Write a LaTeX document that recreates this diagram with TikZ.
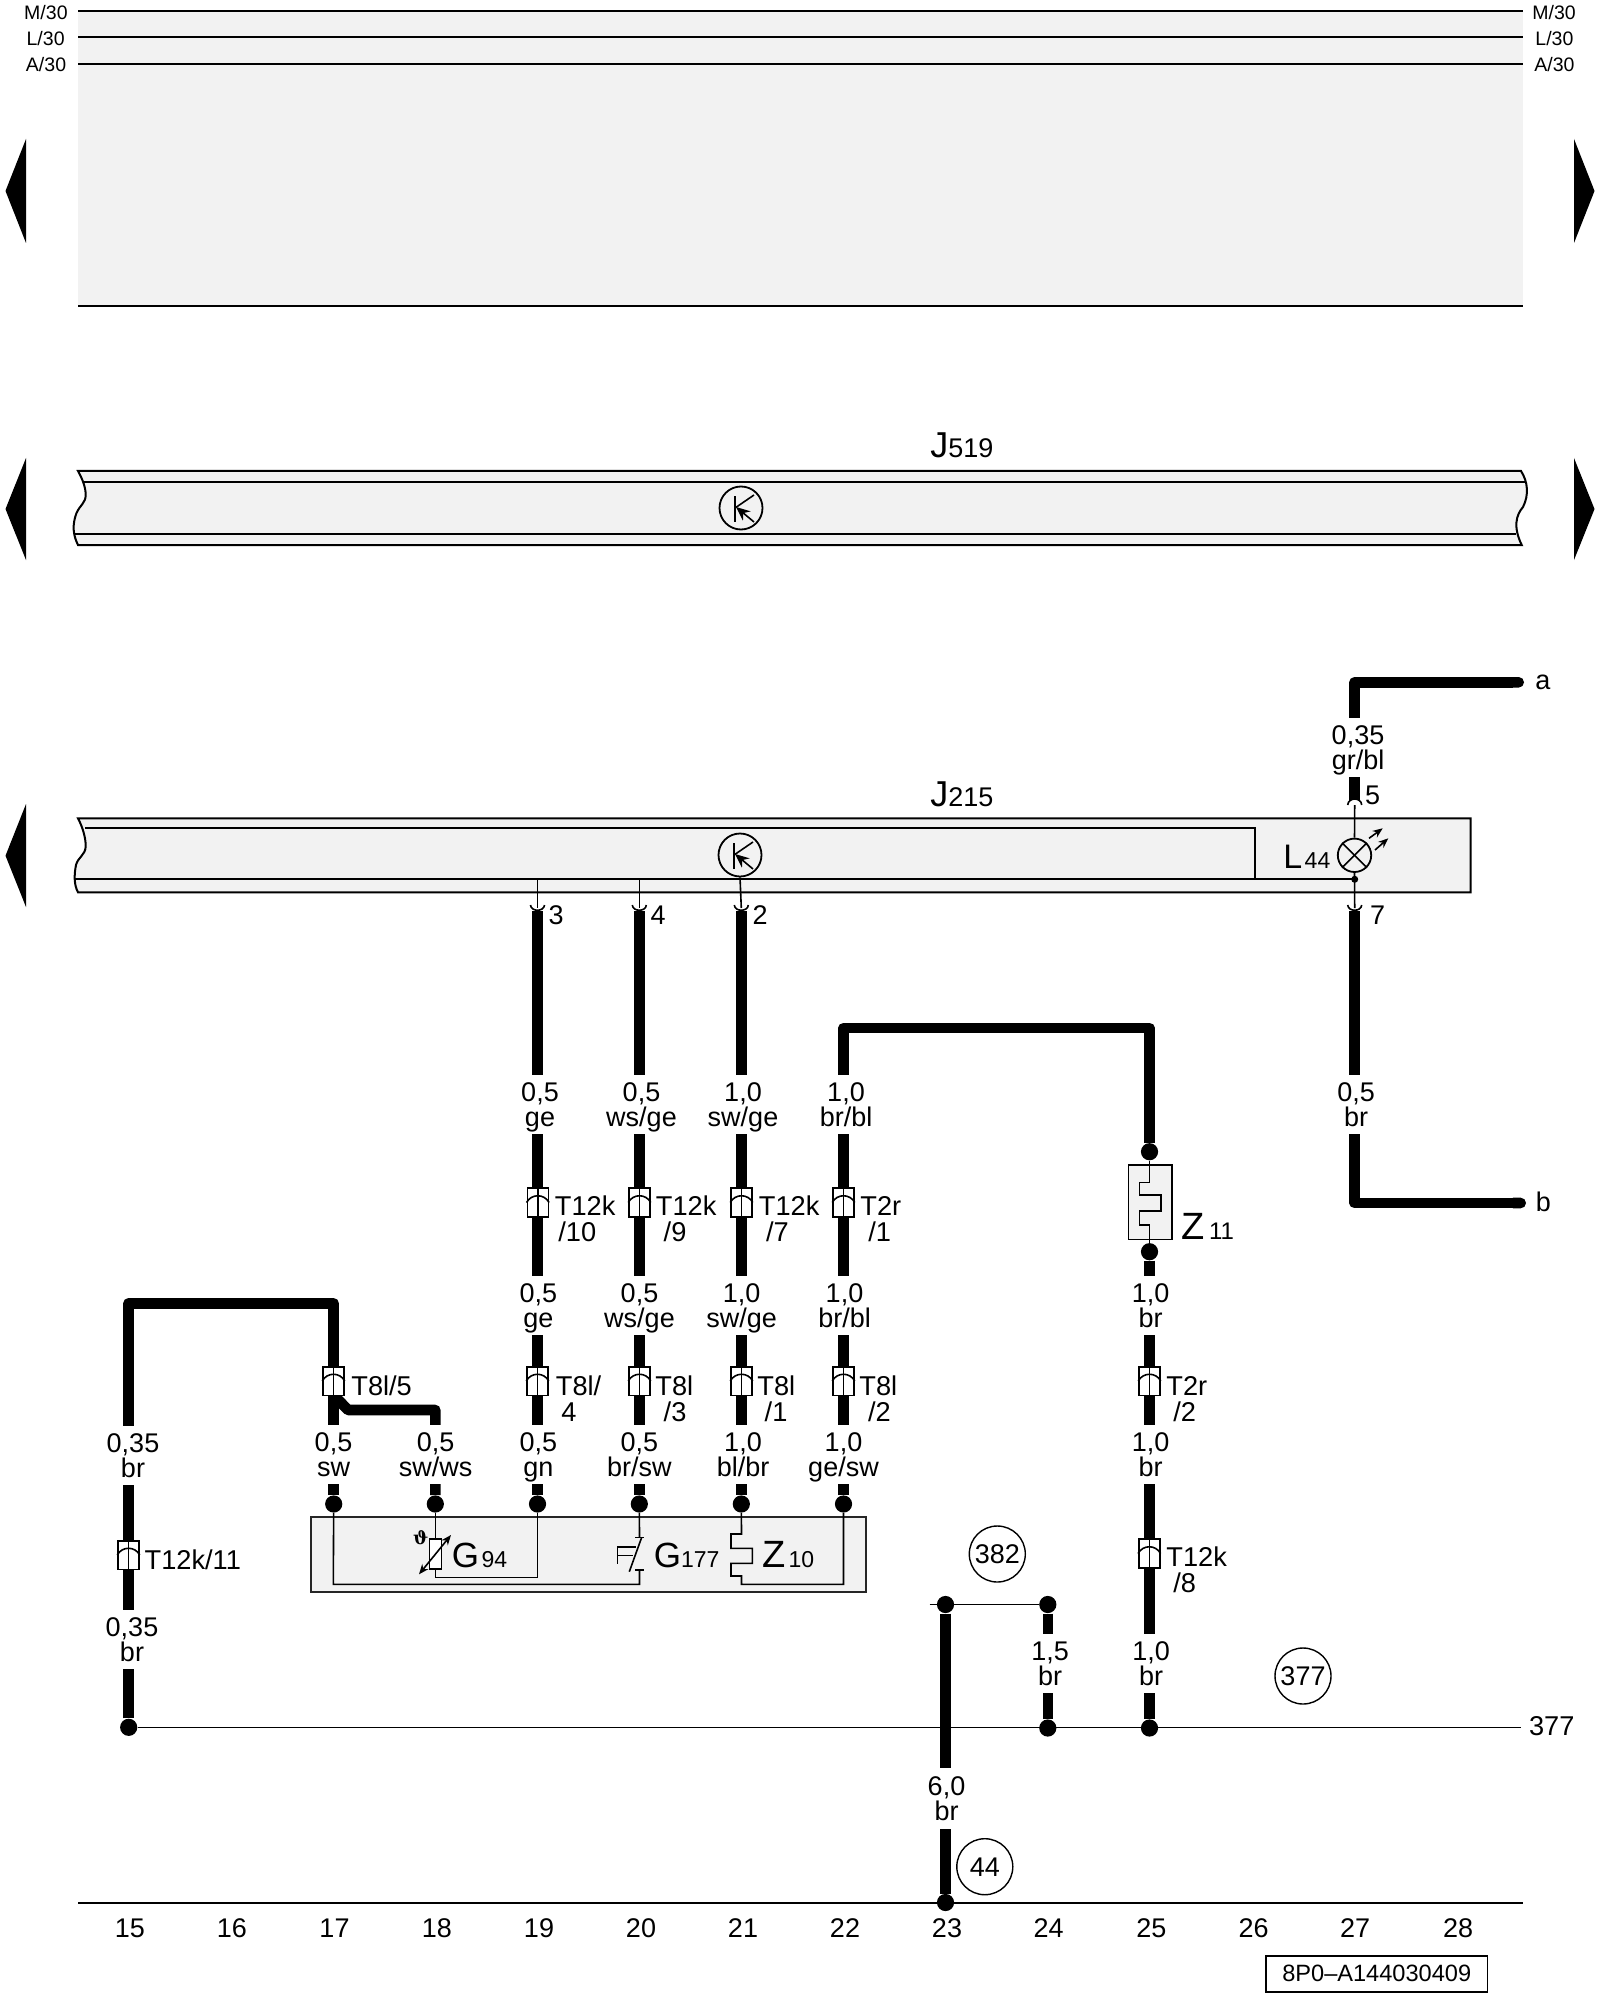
\documentclass[tikz,border=0pt]{standalone}
\usepackage{fontspec}
\setmainfont{Liberation Sans}
\newfontfamily\thetafont{DejaVu Serif}
\usetikzlibrary{arrows.meta}
\definecolor{panel}{HTML}{F2F2F2}
\newcommand\sz[1]{\fontsize{#1}{12.5}\selectfont}
\newcommand\gaugetxt[2]{\rule{0pt}{12.7pt}#1\\\rule[-3pt]{0pt}{3pt}#2}
\tikzset{
  wire/.style={line width=5.3pt,line join=round,black},
  thinw/.style={line width=.8pt,black},
  barline/.style={line width=1pt,black},
  gauge/.style={fill=white,inner sep=0pt,align=center,minimum height=29.5pt,font=\sz{13.5}},
  conn/.style={draw=black,line width=.8pt,fill=white,inner sep=0pt,minimum width=10.5pt,minimum height=14.3pt},
  jdot/.style={circle,fill=black,inner sep=0pt,minimum size=8.6pt},
  txt/.style={inner sep=0pt,anchor=base west,font=\sz{13.6}},
  ctr/.style={inner sep=0pt,font=\sz{13.5}},
  small/.style={inner sep=0pt,font=\sz{9.75}},
  ref/.style={circle,draw=black,line width=.7pt,inner sep=0pt,minimum size=28pt,font=\sz{13.5}},
  tri/.style={fill=black,draw=none},
  thinarrow/.style={thinw,-{Stealth[length=5pt,width=4pt]}}
}
\newcommand\connsym[3]{%
  \node[conn] (#1) at (#2,#3) {};
  \draw[thinw] (#1.north) -- (#1.south);
  \draw[thinw] (#1.west) .. controls +(5,-9) and +(-5,-9) .. (#1.east);
}
\newcommand\cupdown[1]{\draw[thinw] ({#1-7},905) .. controls ({#1-6.5},912) and ({#1+6.5},912) .. ({#1+7},905);}
\newcommand\transistor[3]{%
  \node[circle,draw=black,line width=.9pt,inner sep=0pt,minimum size=21.5pt] (#1) at (#2,#3) {};
  \draw[line width=.8pt] ({#2-6},{#3-12}) -- ({#2-6},{#3+14});
  \draw[line width=.8pt] ({#2-6},#3) -- ({#2+13},{#3-13});
  \draw[line width=.8pt,-{Stealth[length=7pt,width=6pt]}] ({#2+13},{#3+14}) -- ({#2-5},{#3-1});
}
\begin{document}
\begin{tikzpicture}[x=.5pt,y=-.5pt]
\useasboundingbox (0,0) rectangle (1600,2000);

% top rail panel
\fill[panel] (78,11.3) rectangle (1523,306);
\coordinate (mL) at (78,11.3);  \coordinate (mR) at (1523,11.3);
\coordinate (lL) at (78,37.3);  \coordinate (lR) at (1523,37.3);
\coordinate (aL) at (78,64.3);  \coordinate (aR) at (1523,64.3);
\coordinate (bL) at (78,306);   \coordinate (bR) at (1523,306);
\draw[barline] (mL) -- (mR);
\draw[barline] (lL) -- (lR);
\draw[barline] (aL) -- (aR);
\draw[barline] (bL) -- (bR);
\node[small,anchor=base east] (tM1) at (68,19.3) {M/30};
\node[small,anchor=base east] (tL1) at (65,46) {L/30};
\node[small,anchor=base east] (tA1) at (66.5,71.7) {A/30};
\node[small,anchor=base west] (tM2) at (1532,19.3) {M/30};
\node[small,anchor=base west] (tL2) at (1535,46) {L/30};
\node[small,anchor=base west] (tA2) at (1534,71.7) {A/30};

% page arrows
\fill[tri] (5.5,191) -- (26,139) -- (26,243) -- cycle;
\fill[tri] (1594.5,191) -- (1574,139) -- (1574,243) -- cycle;
\fill[tri] (5.5,509) -- (26,458) -- (26,560) -- cycle;
\fill[tri] (1594.5,509) -- (1574,458) -- (1574,560) -- cycle;
\fill[tri] (5.5,855.7) -- (26,804) -- (26,907) -- cycle;

% J519
\draw[barline,fill=panel] (78,471) -- (1521,471) .. controls (1528,482) and (1529,495) .. (1523,507)
  .. controls (1516,515) and (1513,527) .. (1521.7,545) -- (78,545)
  .. controls (73,535) and (72,525) .. (76.5,513) .. controls (80,505) and (85.7,503) .. (85.7,495)
  .. controls (85.7,488) and (83,480) .. (78,471) -- cycle;
\draw[barline] (84,482.3) -- (1526,482.3);
\draw[barline] (74,534.3) -- (1516,534.3);
\transistor{t519}{741}{508}
\node[txt] (j519) at (930,457.3) {\sz{18}J\sz{13.5}519};

% J215
\draw[barline,fill=panel] (78,818.3) -- (1470.7,818.3) -- (1470.7,892.3) -- (78,892.3)
  .. controls (74,885) and (74,875) .. (76,865) .. controls (78,857) and (85.7,855) .. (85.7,846)
  .. controls (85.7,838) and (83,828) .. (78,818.3) -- cycle;
\coordinate (junc) at (1354.7,879.3);
\draw[barline] (85,828.3) -- (1255,828.3) -- (1255,879.3);
\draw[barline] (75,879.3) -- (junc);
\fill[black] (junc) circle (3.5);
\transistor{t215}{740}{855}
\node[txt] (j215) at (930,806) {\sz{18}J\sz{13.5}215};
\node[txt] (l44) at (1283,868.3) {\sz{17}L\kern1.2pt\sz{11.5}44};

% lamp
\node[circle,draw=black,line width=.9pt,inner sep=0pt,minimum size=16.7pt] (lamp) at (1354.5,855.3) {};
\draw[thinw] (lamp.45) -- (lamp.225);
\draw[thinw] (lamp.135) -- (lamp.315);
\coordinate (r1a) at (1369,838.3); \coordinate (r1b) at (1382.7,828.3);
\coordinate (r2a) at (1375,850);   \coordinate (r2b) at (1388.3,838.3);
\draw[thinarrow] (r1a) -- (r1b);
\draw[thinarrow] (r2a) -- (r2b);
\coordinate (pin5t) at (1354.7,805);
\coordinate (pin7t) at (1354.7,908);
\draw[thinw] (pin5t) -- (lamp.north);
\draw[thinw] (lamp.south) -- (pin7t);
\draw[thinw] ({1354.7-7},805) .. controls ({1354.7-6.5},797) and ({1354.7+6.5},797) .. ({1354.7+7},805);
\cupdown{1354.7}
\node[ctr] (n5) at (1372.7,795) {5};
\node[ctr] (n7) at (1377.7,915) {7};

% pins below J215
\coordinate (p3b) at (537.5,880); \coordinate (p3) at (537.5,908);
\coordinate (p4b) at (639.3,880); \coordinate (p4) at (639.3,908);
\coordinate (p2)  at (741.3,908);
\draw[thinw] (p3b) -- (p3);
\draw[thinw] (p4b) -- (p4);
\draw[thinw] (t215.south) -- (p2);
\cupdown{537.5}\cupdown{639.3}\cupdown{741.3}
\node[ctr] (n3) at (556,915) {3};
\node[ctr] (n4) at (658,915) {4};
\node[ctr] (n2) at (760,915) {2};

% sensor box
\draw[line width=.9pt,draw=black!85,fill=panel] (311.3,1517) rectangle (865.7,1592);

% joints
\node[jdot] (d17) at (333.7,1504) {};
\node[jdot] (d18) at (435.3,1504) {};
\node[jdot] (d19) at (537.5,1504) {};
\node[jdot] (d20) at (639.3,1504) {};
\node[jdot] (d21) at (741.3,1504) {};
\node[jdot] (d22) at (843.5,1504) {};
\node[jdot] (d15) at (128.7,1727.3) {};
\node[jdot] (d23t) at (945.5,1604.5) {};
\node[jdot] (d24t) at (1047.8,1604.5) {};
\node[jdot] (d24b) at (1047.8,1728) {};
\node[jdot] (d25b) at (1149.5,1728) {};
\node[jdot] (d23b) at (945.5,1902.5) {};
\node[jdot] (d25t) at (1149.5,1151.7) {};
\node[jdot] (d25m) at (1149.5,1251.7) {};

% thin lines in sensor box
\coordinate (g17a) at (333.3,1584.3);
\coordinate (g20a) at (639.5,1584.3);
\coordinate (g20b) at (639.5,1570);
\coordinate (g20c) at (639.5,1537.3);
\draw[thinw] (d17) -- (g17a) -- (g20a) -- (g20b);
\draw[thinw] (d20) -- (g20c);
\draw[thinw] (635,1537.3) -- (644,1537.3);
\draw[thinw] (635,1570) -- (644,1570);
\draw[thinw] (641.7,1537.3) -- (629.3,1571.7);
\draw[thinw] (617.3,1546) -- (617.3,1564);
\draw[thinw] (617.3,1547) -- (636,1547);
\draw[thinw] (617.3,1555.5) -- (633,1555.5);
\node[draw=black,line width=.8pt,fill=white,inner sep=0pt,minimum width=6pt,minimum height=14.8pt] (res) at (435.3,1553.9) {};
\coordinate (g18a) at (435.3,1577.3);
\coordinate (g19a) at (537.5,1577.3);
\draw[thinw] (d18) -- (res.north);
\draw[thinw] (res.south) -- (g18a) -- (g19a) -- (d19);
\coordinate (ra1) at (451,1535); \coordinate (ra2) at (419,1574.3);
\draw[thinw,{Stealth[length=5pt,width=4pt]}-{Stealth[length=5pt,width=4pt]}] (ra1) -- (ra2);
\node[inner sep=0pt,font={\thetafont\bfseries\fontsize{9}{9}\selectfont}] (theta) at (420.7,1538) {ϑ};
\node[txt] (g94) at (451.5,1567.7) {\sz{17.5}G\kern1.2pt\sz{11.5}94};
\node[txt] (g177) at (653.5,1567.7) {\sz{17.5}G\sz{11.5}177};
\node[txt] (z10) at (762,1567.7) {\sz{19}Z\kern1.5pt\sz{11.5}10};
\coordinate (z10e) at (843.5,1584.3);
\draw[thinw] (d21) -- (741.5,1534) -- (731,1534) -- (731,1548.3) -- (752.3,1548.3) -- (752.3,1563.3)
  -- (731,1563.3) -- (731,1576) -- (741.5,1576) -- (741.5,1584.3) -- (z10e) -- (d22);

% fuse Z11
\node[draw=black,line width=.8pt,fill=panel,inner sep=0pt,minimum width=21.7pt,minimum height=37.2pt] (z11box) at (1150,1202.2) {};
\draw[thinw] (d25t) -- (1149.5,1182.3) -- (1139.3,1182.3) -- (1139.3,1195) -- (1161,1195) -- (1161,1210.7)
  -- (1139.3,1210.7) -- (1139.3,1225) -- (1149.5,1225) -- (d25m);
\node[txt] (z11) at (1181.5,1239) {\sz{19}Z\kern2pt\sz{12}11};

% main lines
\coordinate (e377) at (1520.5,1727.3);
\draw[thinw] (d15) -- (e377);
\node[txt,anchor=west] (t377) at (1528.6,1726) {377};
\coordinate (c23l) at (929.5,1604.5);
\draw[thinw] (c23l) -- (d24t);
\coordinate (gL) at (78,1902.5); \coordinate (gR) at (1523,1902.5);
\draw[barline] (gL) -- (gR);

% thick wires
\coordinate (w19) at (537.5,911);
\coordinate (w20) at (639.3,911);
\coordinate (w21) at (741.3,911);
\coordinate (w27) at (1354.7,911);
\coordinate (w5)  at (1354.7,800);
\coordinate (c15) at (128.7,1303.3);
\coordinate (c17) at (333.7,1303.3);
\coordinate (c22) at (843.5,1028);
\coordinate (c25) at (1149.5,1028);
\coordinate (ca)  at (1354.7,682.3);
\coordinate (ea)  at (1524,682.3);
\coordinate (cb)  at (1354.7,1203);
\coordinate (eb)  at (1526,1203);
\coordinate (br1) at (333.7,1395);
\coordinate (br2) at (348,1410);
\draw[wire] (d15) -- (c15) -- (c17) -- (d17);
\draw[wire] (br1) -- (br2) -| (d18);
\draw[wire] (w19) -- (d19);
\draw[wire] (w20) -- (d20);
\draw[wire] (w21) -- (d21);
\draw[wire] (d22) -- (c22) -- (c25) -- (d25t);
\draw[wire] (d25m) -- (d25b);
\draw[wire] (d23t) -- (d23b);
\draw[wire] (d24t) -- (d24b);
\draw[wire,-{Round Cap[]}] (w5) -- (ca) -- (ea);
\draw[wire,-{Round Cap[]}] (w27) -- (cb) -- (eb);
\node[ctr,anchor=base west] (ta) at (1535,689.3) {a};
\node[ctr,anchor=base west] (tb) at (1535.5,1211.6) {b};

% wire gauge labels
\node[gauge] (w27a) at (1358,747.5) {\gaugetxt{0,35}{gr/bl}};
\node[gauge] (w27b) at (1356,1104.5) {\gaugetxt{0,5}{br}};
\node[gauge] (w19a) at (540,1104.5) {\gaugetxt{0,5}{ge}};
\node[gauge] (w20a) at (641.5,1104.5) {\gaugetxt{0,5}{ws/ge}};
\node[gauge] (w21a) at (743,1104.5) {\gaugetxt{1,0}{sw/ge}};
\node[gauge] (w22a) at (846,1104.5) {\gaugetxt{1,0}{br/bl}};
\node[gauge] (w19b) at (538.3,1305.5) {\gaugetxt{0,5}{ge}};
\node[gauge] (w20b) at (639.5,1305.5) {\gaugetxt{0,5}{ws/ge}};
\node[gauge] (w21b) at (741.7,1305.5) {\gaugetxt{1,0}{sw/ge}};
\node[gauge] (w22b) at (844.5,1305.5) {\gaugetxt{1,0}{br/bl}};
\node[gauge] (w25a) at (1150.5,1305.5) {\gaugetxt{1,0}{br}};
\node[gauge] (w17a) at (333.5,1454) {\gaugetxt{0,5}{sw}};
\node[gauge] (w18a) at (435.7,1454) {\gaugetxt{0,5}{sw/ws}};
\node[gauge] (w19c) at (538.3,1454) {\gaugetxt{0,5}{gn}};
\node[gauge] (w20c) at (639.3,1454) {\gaugetxt{0,5}{br/sw}};
\node[gauge] (w21c) at (743,1454) {\gaugetxt{1,0}{bl/br}};
\node[gauge] (w22c) at (843.5,1454) {\gaugetxt{1,0}{ge/sw}};
\node[gauge] (w25b) at (1150.5,1454) {\gaugetxt{1,0}{br}};
\node[gauge] (w15a) at (133,1455.5) {\gaugetxt{0,35}{br}};
\node[gauge] (w15b) at (132,1639) {\gaugetxt{0,35}{br}};
\node[gauge] (w24a) at (1050,1663) {\gaugetxt{1,5}{br}};
\node[gauge] (w25c) at (1151,1663) {\gaugetxt{1,0}{br}};
\node[gauge,minimum height=30.5pt] (w23a) at (946.5,1798) {\gaugetxt{6,0}{br}};

% connectors
\connsym{k19a}{537.8}{1202.5}
\connsym{k20a}{639.5}{1202.5}
\connsym{k21a}{741.5}{1202.5}
\connsym{k22a}{843.5}{1202.5}
\connsym{k17}{333.5}{1381}
\connsym{k19b}{537.5}{1381}
\connsym{k20b}{639.5}{1381}
\connsym{k21b}{741.5}{1381}
\connsym{k22b}{843.5}{1381}
\connsym{k25a}{1149.5}{1381}
\connsym{k25b}{1149.3}{1553.5}
\connsym{k15}{128.5}{1555}

% connector labels
\node[txt] (a1) at (554.5,1215) {T12k};
\node[txt] (a2) at (558,1241.7) {/10};
\node[txt] (b1) at (655.5,1215) {T12k};
\node[txt] (b2) at (663.3,1241.7) {/9};
\node[txt] (c1) at (758.5,1215) {T12k};
\node[txt] (c2) at (765.7,1241.7) {/7};
\node[txt] (e1) at (860,1215) {T2r};
\node[txt] (e2) at (868,1241.7) {/1};
\node[txt] (f1) at (351,1395) {T8l/5};
\node[txt] (g1) at (555.5,1395) {T8l/};
\node[txt] (g2) at (561,1421) {4};
\node[txt] (h1) at (655,1395) {T8l};
\node[txt] (h2) at (663.3,1421) {/3};
\node[txt] (i1) at (757,1395) {T8l};
\node[txt] (i2) at (764.3,1421) {/1};
\node[txt] (m1) at (859,1395) {T8l};
\node[txt] (m2) at (867.7,1421) {/2};
\node[txt] (o1) at (1166,1395) {T2r};
\node[txt] (o2) at (1173,1421) {/2};
\node[txt] (q1) at (1166,1566.7) {T12k};
\node[txt] (q2) at (1173,1592.7) {/8};
\node[txt] (s1) at (144.3,1569) {T12k/11};

% reference circles
\node[ref] (r382) at (997.3,1554) {382};
\node[ref] (r377) at (1303,1676) {377};
\node[ref] (r44)  at (984.8,1866.7) {44};

% column numbers
\foreach \c/\x in {15/130,16/232,17/334.5,18/436.8,19/539,20/641,21/743,22/845,23/947,24/1048.7,25/1151.3,26/1253.6,27/1355,28/1458}
  \node[ctr] (col\c) at (\x,1928) {\c};

% drawing number
\node[draw=black,line width=.8pt,inner sep=0pt,minimum width=110.75pt,minimum height=17.85pt,font=\sz{11.8}] (dwg) at (1376.75,1973.85) {8P0–A144030409};
\end{tikzpicture}
\end{document}
